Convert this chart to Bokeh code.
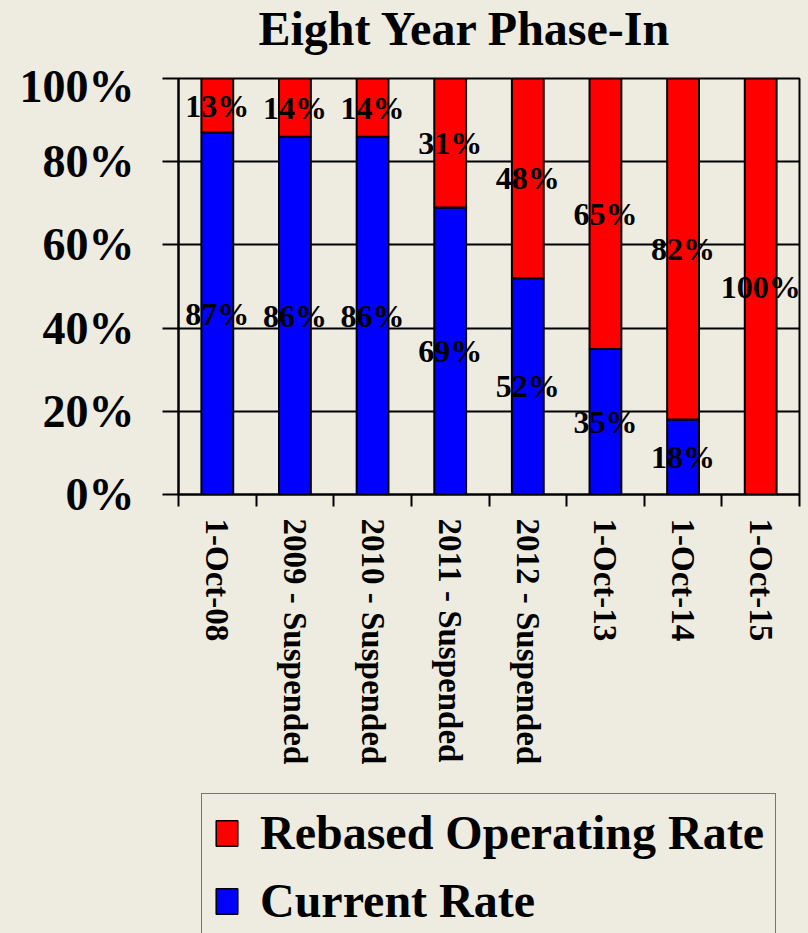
from bokeh.plotting import figure
from bokeh.models import (ColumnDataSource, Range1d, FixedTicker, Legend, LegendItem)
from bokeh.layouts import column
from bokeh.core.properties import value
from bokeh.embed import file_html
from bokeh.resources import INLINE

title_text = "Eight Year Phase-In"
categories = ["1-Oct-08", "2009 - Suspended", "2010 - Suspended", "2011 - Suspended",
              "2012 - Suspended", "1-Oct-13", "1-Oct-14", "1-Oct-15"]
current_rate = [0.87, 0.86, 0.86, 0.69, 0.52, 0.35, 0.18, 0.00]
rebased_rate = [0.13, 0.14, 0.14, 0.31, 0.48, 0.65, 0.82, 1.00]
series_names = ["Rebased Operating Rate", "Current Rate"]
y_ticks = [0.0, 0.2, 0.4, 0.6, 0.8, 1.0]
y_tick_labels = ["0%", "20%", "40%", "60%", "80%", "100%"]

BG = "#EEEBE0"
FONT = "Liberation Serif"
RED = "#FF0000"
BLUE = "#0000FF"
LEFT, RIGHT = 178, 9
W = 808

def bare(fig):
    fig.background_fill_color = BG
    fig.border_fill_color = BG
    fig.outline_line_color = None
    fig.xgrid.visible = False
    fig.ygrid.visible = False
    return fig

# ---------- title strip (data coords == screen pixels) ----------
TH = 60
tf = bare(figure(width=W, height=TH, output_backend="svg", toolbar_location=None,
                 title=None,
                 x_range=Range1d(LEFT, W - RIGHT), y_range=Range1d(TH, 0),
                 x_axis_location=None, y_axis_location=None,
                 min_border_left=LEFT, min_border_right=RIGHT,
                 min_border_top=0, min_border_bottom=0))
tf.text(x=[258], y=[28], text=[title_text], text_align="left",
        text_baseline="middle", text_font=value(FONT), text_font_size="48px",
        text_font_style="bold", text_color="black")

# ---------- main chart ----------
xs = [i + 0.5 for i in range(len(categories))]
tops = [c + r for c, r in zip(current_rate, rebased_rate)]
src = ColumnDataSource(dict(x=xs, cur=current_rate, reb=rebased_rate, top=tops))

p = figure(width=W, height=710, output_backend="svg", toolbar_location=None,
           title=None,
           x_range=Range1d(0, len(categories)), y_range=Range1d(0, 1),
           min_border_left=LEFT, min_border_right=RIGHT, min_border_top=18,
           min_border_bottom=276)
p.background_fill_color = BG
p.border_fill_color = BG
p.outline_line_color = "black"
p.outline_line_width = 2

blue = p.vbar(x="x", bottom=0, top="cur", width=0.41, source=src,
              fill_color=BLUE, line_color="black", line_width=2)
red = p.vbar(x="x", bottom="cur", top="top", width=0.41, source=src,
             fill_color=RED, line_color="black", line_width=2)

lx, ly, lt = [], [], []
for x, c, r in zip(xs, current_rate, rebased_rate):
    if r > 0:
        lx.append(x); ly.append(c + r / 2); lt.append(f"{round(r*100)}%")
    if c > 0:
        lx.append(x); ly.append(c / 2); lt.append(f"{round(c*100)}%")
lsrc = ColumnDataSource(dict(x=lx, y=ly, t=lt))
p.text(x="x", y="y", text="t", source=lsrc, text_align="center",
       text_baseline="middle", text_font=value(FONT), text_font_size="32px",
       text_font_style="bold", text_color="black")

p.xgrid.visible = False
p.ygrid.ticker = FixedTicker(ticks=y_ticks)
p.ygrid.grid_line_color = "black"
p.ygrid.grid_line_width = 2

ya = p.yaxis[0]
ya.ticker = FixedTicker(ticks=y_ticks, minor_ticks=[])
ya.major_label_overrides = {t_: l for t_, l in zip(y_ticks, y_tick_labels)}
ya.major_tick_out = 16
ya.major_tick_in = 0
ya.minor_tick_out = 0
ya.minor_tick_in = 0
ya.axis_line_width = 2
ya.major_tick_line_width = 2
ya.major_label_standoff = 28
ya.major_label_text_font = FONT
ya.major_label_text_font_size = "46px"
ya.major_label_text_font_style = "bold"
ya.major_label_text_color = "black"

xa = p.xaxis[0]
xa.ticker = FixedTicker(ticks=xs, minor_ticks=list(range(len(categories) + 1)))
xa.major_label_overrides = {x: c for x, c in zip(xs, categories)}
xa.major_tick_out = 0
xa.major_tick_in = 0
xa.minor_tick_out = 12
xa.minor_tick_in = 0
xa.minor_tick_line_width = 2
xa.axis_line_width = 2
xa.major_label_orientation = "vertical"
xa.major_label_standoff = 12
xa.major_label_text_font = FONT
xa.major_label_text_font_size = "33px"
xa.major_label_text_font_style = "bold"
xa.major_label_text_color = "black"

# ---------- legend strip ----------
LH = 933 - TH - 710
lf = bare(figure(width=W, height=LH, output_backend="svg", toolbar_location=None,
                 title=None,
                 x_range=Range1d(0, 1), y_range=Range1d(0, 1),
                 x_axis_location=None, y_axis_location=None,
                 min_border_left=LEFT, min_border_right=RIGHT,
                 min_border_top=0, min_border_bottom=0))
# legend-only renderers: their single bar lies entirely outside the visible ranges
lr = lf.vbar(x=[0.5], bottom=[-3], top=[-2], width=0.1, fill_color=RED,
             line_color="black", line_width=1.5)
lb = lf.vbar(x=[0.5], bottom=[-3], top=[-2], width=0.1, fill_color=BLUE,
             line_color="black", line_width=1.5)
legend = Legend(items=[LegendItem(label=series_names[0], renderers=[lr]),
                       LegendItem(label=series_names[1], renderers=[lb])],
                location="top_left", orientation="vertical",
                label_text_font=FONT, label_text_font_size="48px",
                label_text_font_style="bold", label_text_color="black",
                glyph_width=27, glyph_height=32, label_standoff=20,
                padding=11, spacing=13, margin=23,
                border_line_color="black", border_line_width=1.5,
                background_fill_color=BG, background_fill_alpha=1.0)
lf.add_layout(legend, "center")

layout = column(tf, p, lf, spacing=0)

html = file_html(layout, INLINE)
html = html.replace("<head>", "<head><style>html,body{background:#EEEBE0;}</style>", 1)
open("out.html", "w").write(html)
